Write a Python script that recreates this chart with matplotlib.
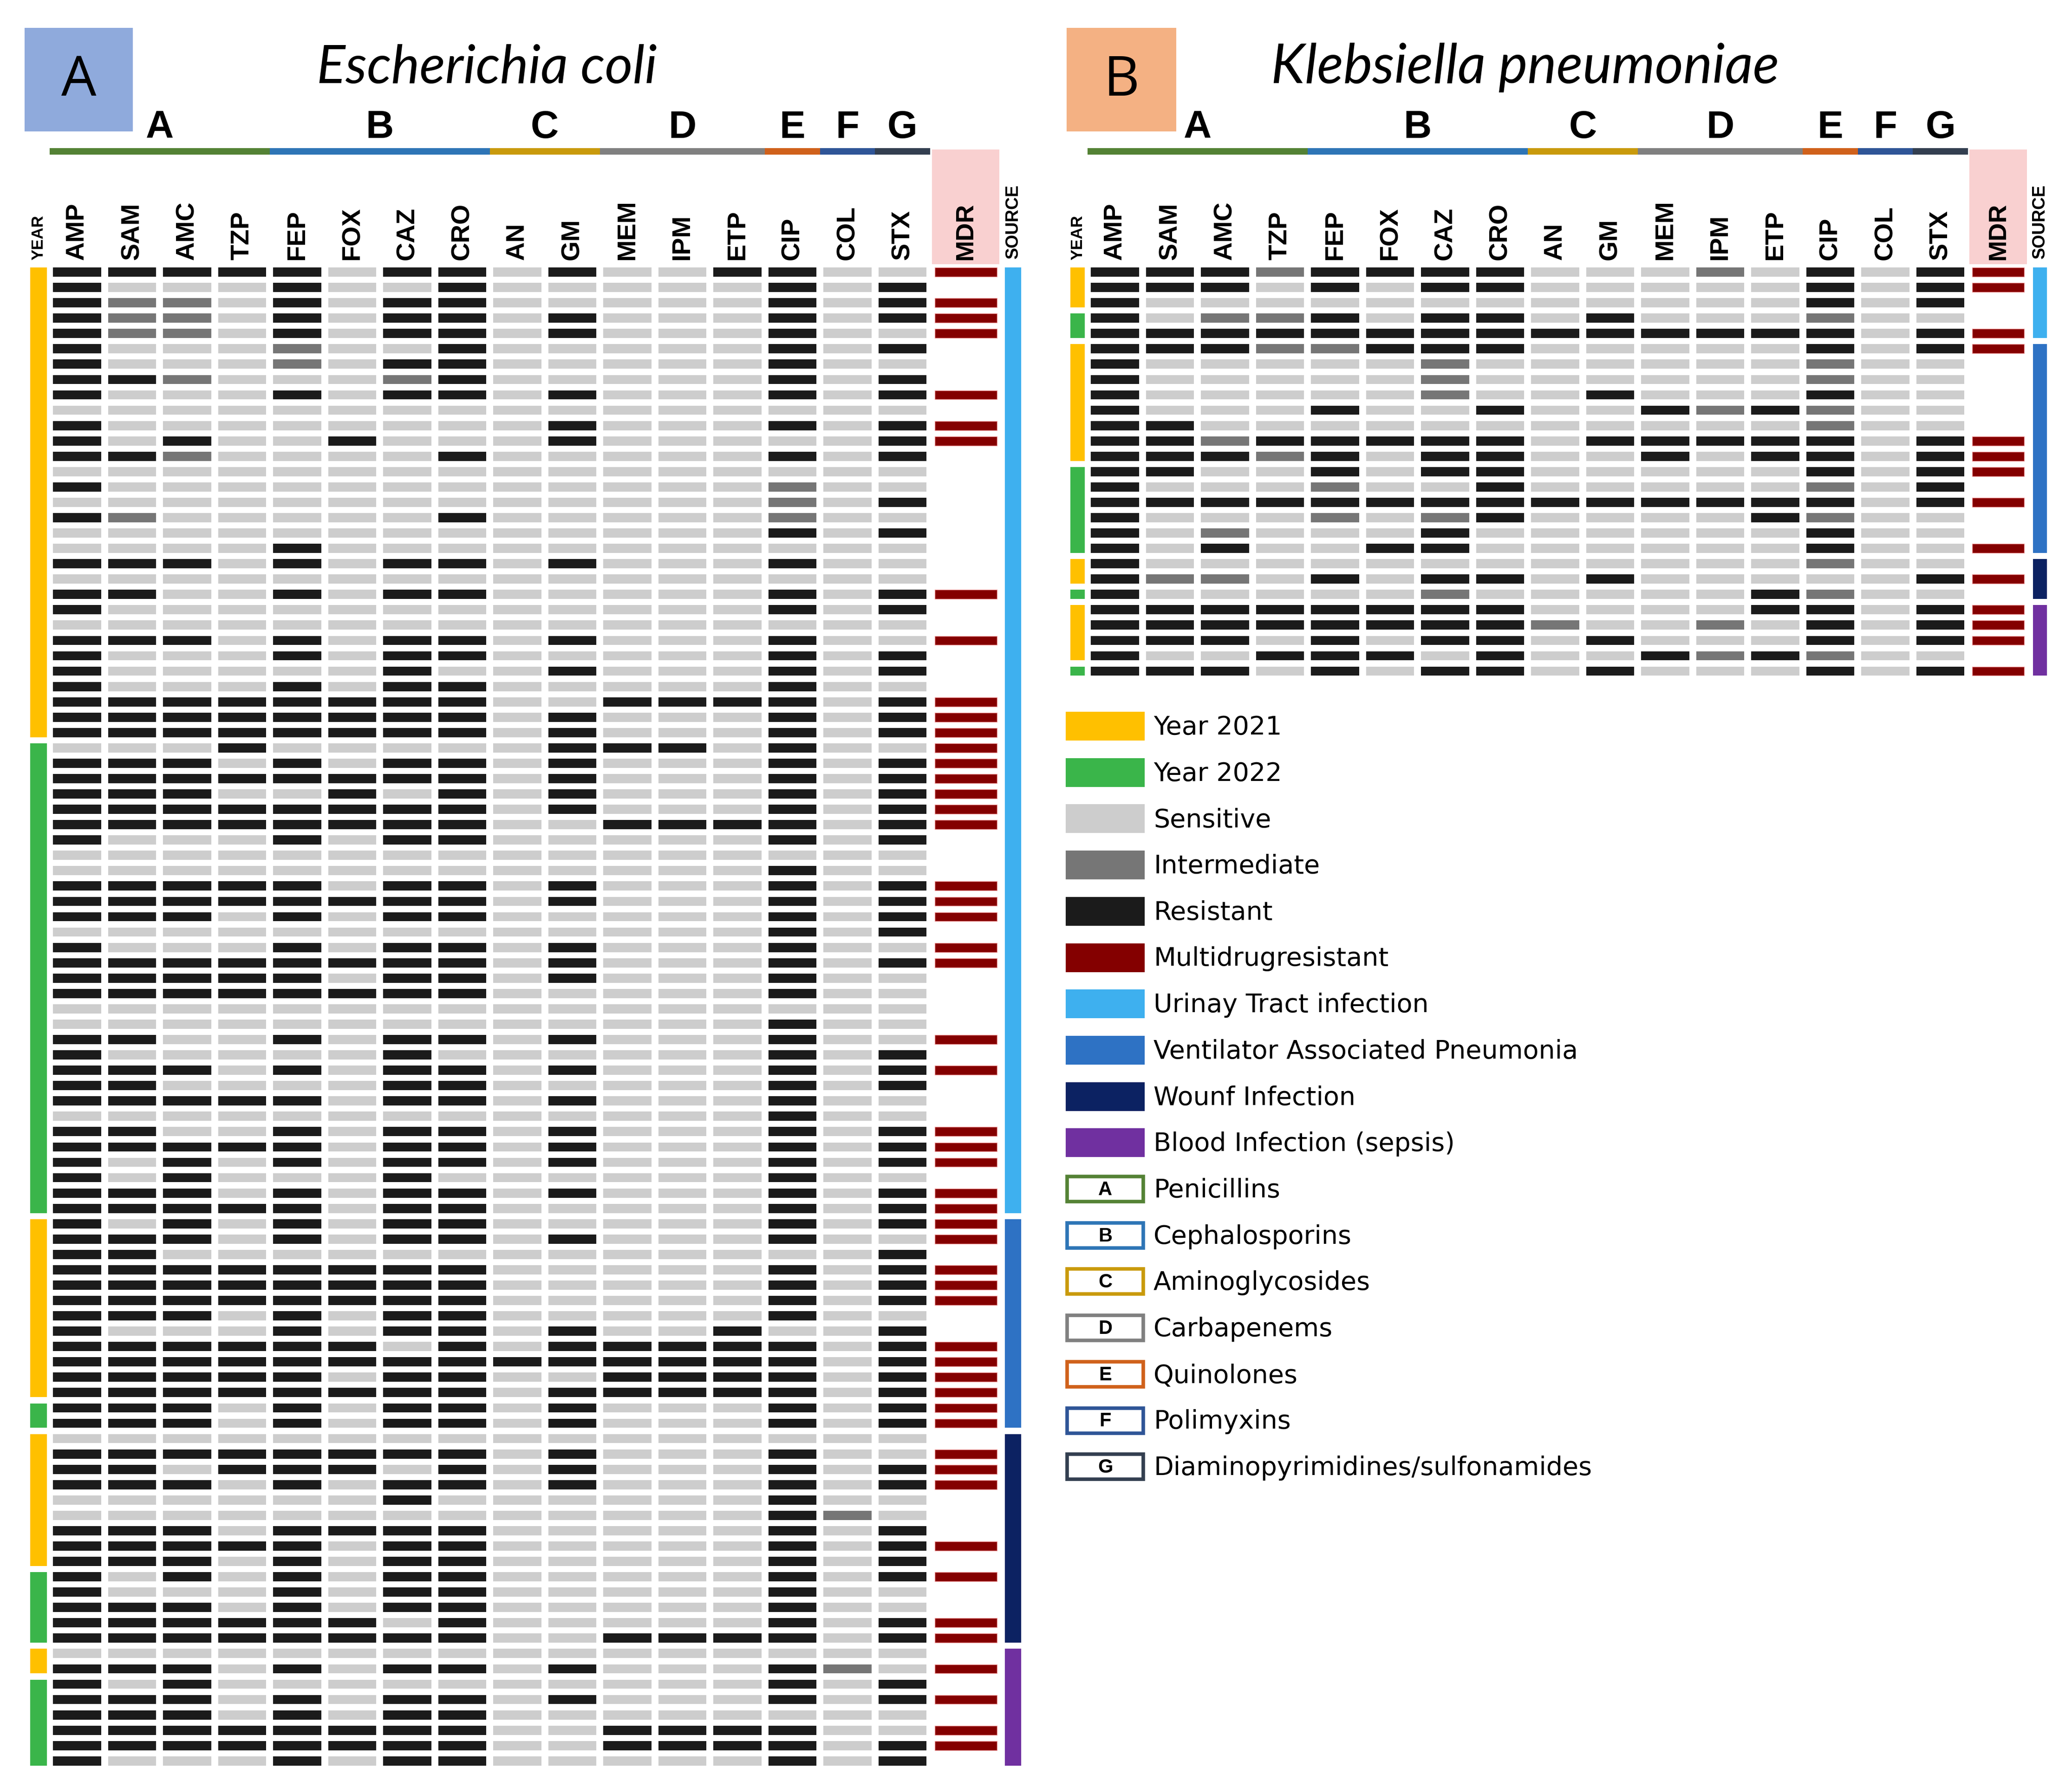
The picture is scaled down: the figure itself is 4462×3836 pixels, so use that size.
import matplotlib
matplotlib.use("Agg")
import matplotlib.pyplot as plt
from matplotlib.patches import Rectangle

# ---------------- data ----------------
drugs = ["AMP", "SAM", "AMC", "TZP", "FEP", "FOX", "CAZ", "CRO",
         "AN", "GM", "MEM", "IPM", "ETP", "CIP", "COL", "STX"]
group_letters = ["A", "B", "C", "D", "E", "F", "G"]
group_first_col = [0, 4, 8, 10, 13, 14, 15]
group_last_col = [3, 7, 9, 12, 13, 14, 15]
group_names = ["Penicillins", "Cephalosporins", "Aminoglycosides", "Carbapenems",
               "Quinolones", "Polimyxins", "Diaminopyrimidines/sulfonamides"]

# '.' = sensitive, 'i' = intermediate, 'R' = resistant (order as in `drugs`)
ecoli_profiles = [
    "RRRRR.RR.R..RR..", "R...R..R.....R.R", "Rii.R.RR.....R.R", "Rii.R.RR.R...R.R",
    "Rii.R.RR.R...R..", "R...i..R.....R.R", "R...i.RR.....R..", "RRi...iR.....R.R",
    "R...R.RR.R...R.R", "................", "R........R...R.R", "R.R..R...R.....R",
    "RRi....R.....R.R", "................", "R............i..", ".............i.R",
    "Ri.....R.....i..", ".............R.R", "....R...........", "RRR.R.RR.R...R..",
    "................", "RR..R.RR.....R.R", "R............R.R", "................",
    "RRR.R.RR.R...R..", "R...R.RR.....R.R", "R.....R..R...R.R", "R...R.RR.....R..",
    "RRRRRRRR..RRRR.R", "RRRRRRRR.R...R.R", "RRRRRRRR.R...R.R", "...R.....RRR.R..",
    "RRR.R.RR.R...R.R", "RRRRRRRR.R...R.R", "RRR..R.R.R...R.R", "RRRRRRRR.R...R.R",
    "RRRRRRRR..RRRR.R", "R...R.RR.....R.R", "................", ".............R..",
    "RRRRR.RR.R...R.R", "RRRRRRRR.R...R.R", "RRR.R.RR.....R.R", ".............R.R",
    "R...R.RR.R...R..", "RRRRRRRR.R...R.R", "RRRRR.RR.R...R..", "RRRRRRRR.....R..",
    "................", ".............R..", "RR..R.RR.R...R..", "R.....R......R.R",
    "RRR.R.RR.R...R.R", "RR....RR.....R.R", "RRRRR.RR.R...R..", ".............R..",
    "RR..R.RR.R...R.R", "RRRRR.RR.R...R.R", "R.R.R.RR.R...R.R", "R.R...R......R..",
    "RRR.R.RR.R...R.R", "RRRRR.RR.....R.R", "R.R.R.RR.....R.R", "RRR.R.RR.R...R..",
    "RR.............R", "RRRRRRRR.....R.R", "RRRRRRRR.....R.R", "RRRRRRRR.....R.R",
    "RRR.R.RR.....R..", "R...R.RR.R..R..R", "RRRRRR.R.RRRRR.R", "RRRRRRRRRRRRRR.R",
    "RRRRR.RR..RRRR.R", "RRRRRRRR.RRRRR.R", "RRR.R.RR.R...R.R", "RRR.R.RR.R...R.R",
    "................", "RRRRRRRR.R...R..", "RR.RRR.R.R...R.R", "RRR.R.RR.R...R.R",
    "......R......R..", ".............Ri.", "RRR.RRRR.....R.R", "RRRRR.RR.....R.R",
    "RRR.R.RR.....R.R", "R.R.R.RR.....R.R", "R...R.RR.....R..", "RRR.R.RR.....R..",
    "RRRRRR.R.....R.R", "RRRRRRRR..RRRR.R", "................", "RRR.R.RR.R...Ri.",
    "R.R..........R.R", "RRR.R.RR.R...R.R", "RRR.R.RR........", "RRRRRRRR..RRRR..",
    "RRRRRRRR..RRRR.R", "R...R.RR.....R.R",
]
ecoli_mdr = [1, 0, 1, 1, 1, 0, 0, 0, 1, 0, 1, 1, 0, 0, 0, 0,
             0, 0, 0, 0, 0, 1, 0, 0, 1, 0, 0, 0, 1, 1, 1, 1, 1,
             1, 1, 1, 1, 0, 0, 0, 1, 1, 1, 0, 1, 1, 0, 0, 0,
             0, 1, 0, 1, 0, 0, 0, 1, 1, 1, 0, 1, 1, 1, 1, 0, 1,
             1, 1, 0, 0, 1, 1, 1, 1, 1, 1, 0, 1, 1, 1, 0, 0,
             0, 1, 0, 1, 0, 0, 1, 1, 0, 1, 0, 1, 0, 1, 1, 0]
ecoli_year_runs = [(2021, 31), (2022, 31), (2021, 12), (2022, 2),
                   (2021, 9), (2022, 5), (2021, 2), (2022, 6)]
ecoli_source_runs = [("UTI", 62), ("VAP", 14), ("Wound", 14), ("Blood", 8)]

kpn_profiles = [
    "RRRiRRRR...i.R.R", "RRR.R.RR.....R.R", "R............R.R", "R.iiR.RR.R...i..",
    "RRRRRRRRRRRRRR.R", "RRRiiRRR.....R.R", "R.....i......i..", "R.....i......i..",
    "R.....i..R...R..", "R...R..R..RiRi..", "RR...........i..", "RRiRRRRR.RRRRR.R",
    "RRRiR.RR..R.RR.R", "RR..R.RR.....R.R", "R...i..R.....i.R", "RRRRRRRRRRRRRR.R",
    "R...i.iR....Ri..", "R.i...R......R..", "R.R..RR......R..", "R............i..",
    "Rii.R.RR.R.....R", "R.....i.....Ri..", "RRRRRRRR....RR.R", "RRRRRRRRi..i.R.R",
    "RRR.R.RR.R...R.R", "R..RRR.R..RiRi..", "RRR.R.RR.R...R.R",
]
kpn_mdr = [1, 1, 0, 0, 1, 1, 0, 0, 0, 0, 0, 1, 1, 1, 0, 1, 0, 0, 1, 0, 1, 0, 1, 1, 1, 0, 1]
kpn_year_runs = [(2021, 3), (2022, 2), (2021, 8), (2022, 6),
                 (2021, 2), (2022, 1), (2021, 4), (2022, 1)]
kpn_source_runs = [("UTI", 5), ("VAP", 14), ("Wound", 3), ("Blood", 5)]

legend_labels = ["Year 2021", "Year 2022", "Sensitive", "Intermediate", "Resistant",
                 "Multidrugresistant", "Urinay Tract infection",
                 "Ventilator Associated Pneumonia", "Wounf Infection",
                 "Blood Infection (sepsis)"]

# ---------------- styles ----------------
state_colors = {".": "#cdcdcd", "i": "#767676", "R": "#1b1b1b"}
mdr_color, mdr_edge = "#840000", "#f2a3a3"
year_colors = {2021: "#ffc000", 2022: "#3ab54a"}
source_colors = {"UTI": "#3eb0ef", "VAP": "#2e72c4", "Wound": "#0c2262", "Blood": "#7030a0"}
group_colors = ["#548235", "#2e75b6", "#c99a0c", "#808080", "#d0611b", "#2f5597", "#333f50"]
legend_colors = [year_colors[2021], year_colors[2022], state_colors["."], state_colors["i"],
                 state_colors["R"], mdr_color, source_colors["UTI"], source_colors["VAP"],
                 source_colors["Wound"], source_colors["Blood"]]

W, H, DPI = 4462, 3837, 100
PITCH_X, PITCH_Y, ROW0_Y = 118.5, 33.06, 587.0
CELL_W, CELL_H = 0.87, 0.60
BOLD = ["Liberation Sans", "DejaVu Sans"]

fig = plt.figure(figsize=(W / DPI, H / DPI), dpi=DPI)
fig.patch.set_facecolor("white")


def panel_axes(px_left, px_right, amp_x):
    ax = fig.add_axes([px_left / W, 0, (px_right - px_left) / W, 1])
    ax.set_xlim((px_left - amp_x) / PITCH_X, (px_right - amp_x) / PITCH_X)
    ax.set_ylim((H - ROW0_Y) / PITCH_Y, (0 - ROW0_Y) / PITCH_Y)
    ax.axis("off")
    return ax


def draw_panel(ax, g, title, letter, box_color, profiles, mdr, year_runs, source_runs):
    n = len(profiles)
    rows = list(range(n))
    # resistance cells
    for j in range(len(drugs)):
        cols = [state_colors[p[j]] for p in profiles]
        ax.barh(rows, width=CELL_W, left=j - CELL_W / 2, height=CELL_H,
                color=cols, linewidth=0)
    # MDR header background
    ax.add_patch(Rectangle((g["mdr_x"] - g["mdr_hw"], -8.0), 2 * g["mdr_hw"], 7.5,
                           facecolor="#f9d0d0", edgecolor="none", zorder=0))
    mdr_rows = [i for i, m in enumerate(mdr) if m]
    w = g["mdr_w"]
    ax.barh(mdr_rows, width=w, left=g["mdr_x"] - w / 2, height=CELL_H,
            color=mdr_color, edgecolor=mdr_edge, linewidth=1.0, zorder=3)
    # year & source bars
    gap = 0.2
    start = 0
    for yr, cnt in year_runs:
        ax.bar(g["year_x"], cnt - 2 * gap, bottom=start - 0.5 + gap, width=g["year_w"],
               color=year_colors[yr], linewidth=0)
        start += cnt
    start = 0
    for src, cnt in source_runs:
        ax.bar(g["src_x"], cnt - 2 * gap, bottom=start - 0.5 + gap, width=g["src_w"],
               color=source_colors[src], linewidth=0)
        start += cnt
    # column labels
    lab_y = -0.82
    for j, d in enumerate(drugs):
        ax.text(j, lab_y, d, rotation=90, ha="center", va="bottom",
                fontsize=40, fontweight="bold", family=BOLD)
    ax.text(g["year_x"], lab_y, "YEAR", rotation=90, ha="center", va="bottom",
            fontsize=25, fontweight="bold", family=BOLD)
    ax.text(g["mdr_x"], lab_y, "MDR", rotation=90, ha="center", va="bottom",
            fontsize=39, fontweight="bold", family=BOLD)
    ax.text(g["src_x"], lab_y - 0.1, "SOURCE", rotation=90, ha="center", va="bottom",
            fontsize=27, fontweight="bold", family=BOLD)
    # antibiotic group bar and letters
    for k, gl in enumerate(group_letters):
        a, b = group_first_col[k] - 0.5, group_last_col[k] + 0.5
        ax.add_patch(Rectangle((a, -8.08), b - a, 0.42, facecolor=group_colors[k],
                               edgecolor="none"))
        ax.text((a + b) / 2, -9.45, gl, ha="center", va="center",
                fontsize=60, fontweight="bold", family=BOLD)
    # panel box + title
    ax.add_patch(Rectangle((g["box_x0"], -15.9), g["box_w"], 6.73,
                           facecolor=box_color, edgecolor="none"))
    ax.text(g["box_x0"] + g["box_w"] / 2, -12.45, letter, ha="center", va="center",
            fontsize=86, family=["Open Sans", "DejaVu Sans"])
    ax.text(g["title_x"], -12.35, title, ha="center", va="baseline", fontsize=g["title_fs"],
            style="italic", family=["Lato", "Open Sans", "DejaVu Sans"])


axA = panel_axes(0, 2240, 166.0)
geomA = dict(mdr_x=16.15, mdr_w=1.13, mdr_hw=0.61, year_x=-0.70, year_w=0.31,
             src_x=17.01, src_w=0.30, box_x0=-0.95, box_w=1.96, title_x=7.45, title_fs=83)
draw_panel(axA, geomA, "Escherichia coli", "A", "#8faadc", ecoli_profiles, ecoli_mdr,
           ecoli_year_runs, ecoli_source_runs)

axB = panel_axes(2240, W, 2401.0)
geomB = dict(mdr_x=16.05, mdr_w=0.95, mdr_hw=0.52, year_x=-0.68, year_w=0.26,
             src_x=16.81, src_w=0.25, box_x0=-0.88, box_w=1.99, title_x=7.45, title_fs=85)
draw_panel(axB, geomB, "Klebsiella pneumoniae", "B", "#f4b183", kpn_profiles, kpn_mdr,
           kpn_year_runs, kpn_source_runs)

# ---------------- legend (pixel coordinates) ----------------
axL = fig.add_axes([0, 0, 1, 1])
axL.set_xlim(0, W)
axL.set_ylim(H, 0)
axL.axis("off")
axL.patch.set_alpha(0)
LX, LW, LH, LY0, LDY, TX = 2295, 170, 62, 1565, 99.7, 2484
for k, (lab, col) in enumerate(zip(legend_labels, legend_colors)):
    y = LY0 + k * LDY
    axL.add_patch(Rectangle((LX, y - LH / 2), LW, LH, facecolor=col, edgecolor="none"))
    axL.text(TX, y + 2, lab, ha="left", va="center", fontsize=40,
             family=["DejaVu Sans"])
for m, (gl, name) in enumerate(zip(group_letters, group_names)):
    y = LY0 + (len(legend_labels) + m) * LDY
    axL.add_patch(Rectangle((LX + 3, y - LH / 2 + 4), LW - 6, LH - 8, facecolor="white",
                            edgecolor=group_colors[m], linewidth=5.5))
    axL.text(LX + LW / 2, y + 1, gl, ha="center", va="center", fontsize=30,
             fontweight="bold", family=BOLD)
    axL.text(TX, y + 2, name, ha="left", va="center", fontsize=40,
             family=["DejaVu Sans"])

fig.savefig("out.png", dpi=DPI, facecolor="white")
